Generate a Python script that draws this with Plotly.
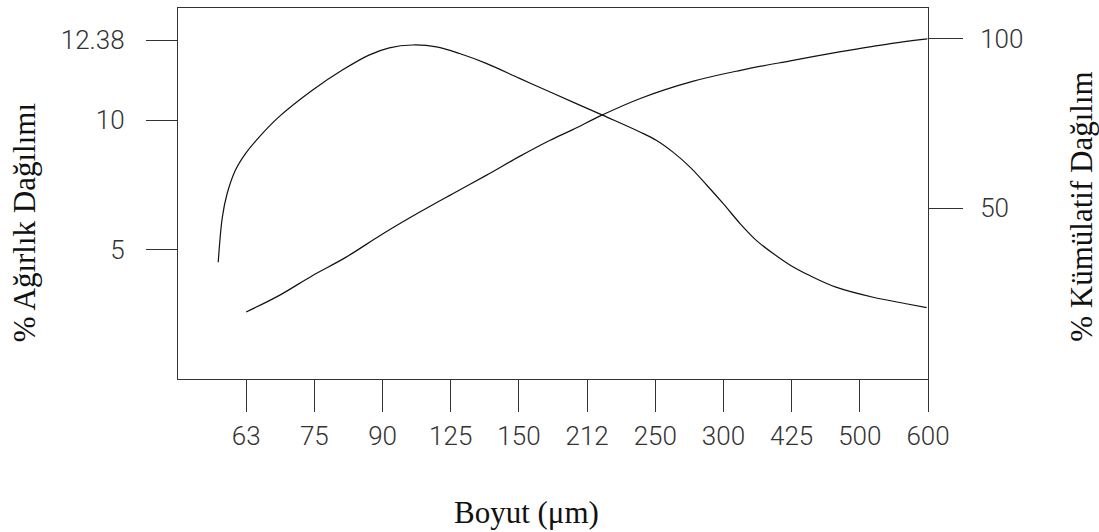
import plotly.graph_objects as go

# Categories (sieve sizes, µm)
sizes = ["63", "75", "90", "125", "150", "212", "250", "300", "425", "500", "600"]

# % weight distribution curve (x = category index position, y = %)
freq_x = [-0.41, -0.35, -0.28, -0.16, -0.01, 0.19, 0.48, 0.97, 1.41, 1.80, 2.10, 2.44, 2.79,
          3.13, 3.52, 4.01, 4.45, 5.235, 5.775, 6.02, 6.26, 6.51, 6.76, 7.0, 7.25, 7.49,
          7.74, 7.98, 8.28, 8.65, 9.21, 9.70, 9.98]
freq_y = [4.51, 6.25, 7.16, 8.06, 8.71, 9.35, 10.13, 11.16, 11.94, 12.52, 12.80, 12.91, 12.84,
          12.58, 12.20, 11.62, 11.10, 10.19, 9.55, 9.22, 8.77, 8.19, 7.48, 6.77, 5.99, 5.34,
          4.83, 4.40, 3.98, 3.55, 3.15, 2.90, 2.76]

# % cumulative distribution curve
cum_x = [0.0, 0.48, 0.97, 1.46, 2.0, 2.54, 3.03, 3.52, 4.01, 4.45, 4.79, 5.21, 5.78, 6.56,
         7.25, 7.98, 8.72, 9.45, 9.99]
cum_y = [19.4, 24.2, 30.1, 35.5, 42.4, 48.8, 54.3, 59.7, 65.3, 70.0, 73.2, 77.4, 82.4, 87.5,
         90.7, 93.5, 96.2, 98.6, 100.0]

left_tickvals = [5, 10, 13.1]
left_ticktext = ["5", "10", "12.38"]
right_tickvals = [50, 100]
right_ticktext = ["50", "100"]

line_col = "#111111"
axis_col = "#333333"
tick_font = dict(family="Roboto, DejaVu Sans, sans-serif", size=26, color="#333333", weight=300)
title_font = dict(family="Liberation Serif, Times New Roman, serif", size=31, color="#111111")

fig = go.Figure()
fig.add_trace(go.Scatter(x=freq_x, y=freq_y, mode="lines", yaxis="y",
                         line=dict(color=line_col, width=1.2, shape="spline", smoothing=1.0),
                         showlegend=False, hoverinfo="skip"))
fig.add_trace(go.Scatter(x=cum_x, y=cum_y, mode="lines", yaxis="y2",
                         line=dict(color=line_col, width=1.2, shape="spline", smoothing=1.0),
                         showlegend=False, hoverinfo="skip"))

fig.update_layout(
    width=1099, height=532,
    margin=dict(l=178, r=171, t=8, b=153, autoexpand=False),
    paper_bgcolor="white", plot_bgcolor="white",
    xaxis=dict(range=[-1, 10], tickmode="array", tickvals=list(range(len(sizes))), ticktext=sizes,
               ticks="outside", ticklen=32, tickwidth=1, tickcolor=axis_col,
               showline=True, mirror=True, linecolor=axis_col, linewidth=1.3,
               showgrid=False, zeroline=False, tickfont=tick_font, ticklabelstandoff=2,
               automargin=False),
    yaxis=dict(range=[0, 14.34], tickmode="array", tickvals=left_tickvals, ticktext=left_ticktext,
               ticks="outside", ticklen=31, tickwidth=1, tickcolor=axis_col,
               showline=True, mirror=True, linecolor=axis_col, linewidth=1.3,
               showgrid=False, zeroline=False, tickfont=tick_font, ticklabelstandoff=16,
               automargin=False),
    yaxis2=dict(range=[-0.4, 109.1], overlaying="y", side="right", tickmode="array",
                tickvals=right_tickvals, ticktext=right_ticktext,
                ticks="outside", ticklen=34, tickwidth=1, tickcolor=axis_col,
                showline=False, showgrid=False, zeroline=False, tickfont=tick_font,
                ticklabelstandoff=12, automargin=False),
    annotations=[
        dict(text="% Ağırlık Dağılımı", xref="paper", yref="paper", x=-0.205, y=0.423,
             textangle=-90, showarrow=False, font=title_font, xanchor="center", yanchor="middle"),
        dict(text="% Kümülatif Dağılım", xref="paper", yref="paper", x=1.2036, y=0.4636,
             textangle=-90, showarrow=False, font=title_font, xanchor="center", yanchor="middle"),
        dict(text="Boyut (μm)", xref="paper", yref="paper", x=0.464, y=-0.36,
             showarrow=False, font=title_font, xanchor="center", yanchor="middle"),
    ],
)

fig.write_html("out.html", config={"displayModeBar": False},
               post_script="document.body.style.margin='0px';document.body.style.overflow='hidden';")
